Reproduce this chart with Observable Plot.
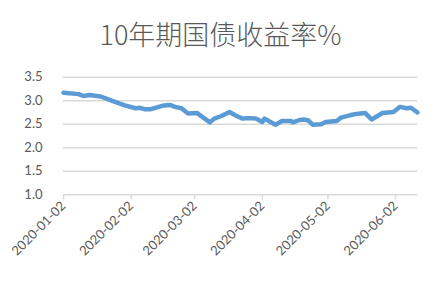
<!DOCTYPE html>
<html><head><meta charset="utf-8">
<script src="https://cdn.jsdelivr.net/npm/d3@7"></script>
<script src="https://cdn.jsdelivr.net/npm/@observablehq/plot@0.6"></script>
<style>
body{margin:0;background:#fff;}
#title{height:60px;width:441px;text-align:center;font-family:"Noto Sans CJK SC","Noto Sans",sans-serif;font-size:27px;color:#595959;line-height:68px;font-weight:300;overflow:visible;white-space:nowrap;}
</style></head>
<body>
<div id="title">10年期国债收益率%</div>
<div id="chart"></div>
<script>
const dates = ["2020-01-02","2020-01-09","2020-01-11","2020-01-14","2020-01-19","2020-01-24","2020-01-30","2020-02-04","2020-02-06","2020-02-08","2020-02-11","2020-02-17","2020-02-20","2020-02-22","2020-02-25","2020-02-28","2020-03-03","2020-03-09","2020-03-11","2020-03-14","2020-03-18","2020-03-21","2020-03-24","2020-03-27","2020-03-30","2020-04-02","2020-04-03","2020-04-08","2020-04-11","2020-04-15","2020-04-16","2020-04-19","2020-04-21","2020-04-23","2020-04-25","2020-04-29","2020-05-01","2020-05-06","2020-05-08","2020-05-12","2020-05-15","2020-05-19","2020-05-22","2020-05-27","2020-06-01","2020-06-04","2020-06-07","2020-06-09","2020-06-12"];
const yields = [3.17,3.14,3.10,3.12,3.09,3.00,2.90,2.84,2.85,2.82,2.82,2.90,2.91,2.87,2.84,2.73,2.74,2.54,2.62,2.67,2.76,2.68,2.62,2.63,2.62,2.55,2.62,2.49,2.57,2.57,2.54,2.59,2.60,2.58,2.49,2.50,2.55,2.57,2.64,2.69,2.72,2.74,2.60,2.74,2.76,2.87,2.84,2.85,2.75];
const xTickLabels = ["2020-01-02","2020-02-02","2020-03-02","2020-04-02","2020-05-02","2020-06-02"];
const yTicks = [1.0,1.5,2.0,2.5,3.0,3.5];
const xDomain = ["2020-01-02","2020-06-12"];

const parse = d3.utcParse("%Y-%m-%d");
const data = dates.map((d,i)=>({date: parse(d), value: yields[i]}));

const chart = Plot.plot({
  width: 441,
  height: 222,
  marginTop: 16.7,
  marginBottom: 87.7,
  marginLeft: 63,
  marginRight: 24,
  style: {fontFamily: "Lato, 'Open Sans', sans-serif", fontSize: "13px", color: "#595959", background: "#fff"},
  x: {type: "utc", domain: xDomain.map(parse)},
  y: {domain: [1.0, 3.5]},
  marks: [
    Plot.ruleY(yTicks, {stroke: "#d9d9d9", strokeWidth: 1.5}),
    Plot.axisY({ticks: yTicks, tickSize: 0, tickPadding: 21, tickFormat: d3.format(".1f"), label: null, stroke: "none", fill: "#595959"}),
    Plot.axisX({ticks: xTickLabels.map(parse), tickSize: 5, tickRotate: -45, tickPadding: 4, tickFormat: d3.utcFormat("%Y-%m-%d"), label: null, stroke: "#d9d9d9", strokeWidth: 1.5, fill: "#595959"}),
    Plot.line(data, {x: "date", y: "value", stroke: "#5b9bd5", strokeWidth: 4.5, strokeLinejoin: "round", strokeLinecap: "round"})
  ]
});
document.getElementById("chart").appendChild(chart);
</script>
</body></html>
